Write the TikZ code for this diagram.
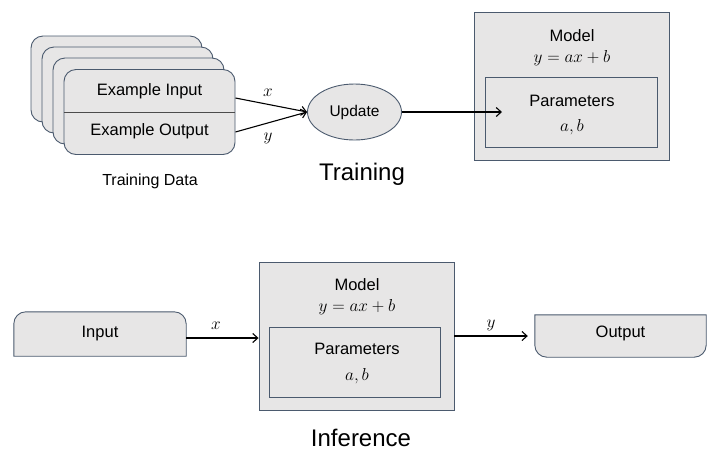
\documentclass[tikz,border=0pt]{standalone}
\usepackage{fontspec}
\setmainfont{Liberation Sans}
\usetikzlibrary{arrows.meta,shapes.geometric,backgrounds}
\definecolor{boxfill}{HTML}{E7E6E6}
\definecolor{boxline}{HTML}{4B5A6E}
\begin{document}
\begin{tikzpicture}[x=1pt,y=-1pt,
  lbl/.style={font=\fontsize{16.5}{19}\selectfont, inner sep=0pt},
  mth/.style={font=\fontsize{16.5}{19}\selectfont, inner sep=0pt},
  big/.style={font=\fontsize{24}{28}\selectfont, inner sep=0pt},
  shp/.style={fill=boxfill, draw=boxline, line width=0.9pt},
  card/.style={shp, rounded corners=12pt},
  sq/.style={shp, inner sep=0pt},
  arr/.style={line width=1.1pt, -{Straight Barb[length=5pt,width=9pt]}}]
\useasboundingbox (0,0) rectangle (713,451);

% ---------- Training ----------
\foreach \i in {0,1,2}{
  \draw[card] ({31+11*\i},{36+11*\i}) rectangle ++(171,86);
}
\node[card, minimum width=171pt, minimum height=85pt, inner sep=0pt] (td) at (149.5,112) {};
\draw[line width=0.9pt, draw=black!70] (td.west) -- (td.east);
\node[lbl] (ei) at (149.5,91) {Example Input};
\node[lbl] (eo) at (149.5,131) {Example Output};
\node[lbl, font=\fontsize{16}{19}\selectfont] (tdl) at (150,181) {Training Data};

\node[shp, ellipse, minimum width=94pt, minimum height=56pt, inner sep=0pt,
      font=\fontsize{15.5}{18}\selectfont] (upd) at (354.5,112) {Update};

\draw[arr] ([yshift=14pt]td.east) -- (upd.west);
\draw[arr] ([yshift=-20pt]td.east) -- (upd.west);
\node[mth] (lx1) at (268,93) {$x$};
\node[mth] (ly1) at (268,138) {$y$};

\node[sq, minimum width=195pt, minimum height=148pt] (m1) at (571.5,86) {};
\node[sq, minimum width=172pt, minimum height=70pt] (p1) at (571,112) {};
\node[lbl] (m1t) at (572,36) {Model};
\node[mth] (m1e) at (572,58) {$y = ax + b$};
\node[lbl] (p1t) at (572,101) {Parameters};
\node[mth] (p1e) at (572,127) {$a, b$};
\coordinate (p1in) at (502,112);
\draw[arr] (upd.east) -- (p1in);

\node[big] (tr) at (362,174) {Training};

% ---------- Inference ----------
\node[minimum width=172pt, minimum height=44pt, inner sep=0pt] (in) at (100,334) {};
\node[minimum width=171pt, minimum height=42pt, inner sep=0pt] (out) at (620.5,336) {};
\begin{scope}[on background layer]
\draw[shp] (in.south west) -- ([yshift=-12pt]in.north west)
  .. controls ([yshift=-5.4pt]in.north west) and ([xshift=5.4pt]in.north west) .. ([xshift=12pt]in.north west)
  -- ([xshift=-12pt]in.north east)
  .. controls ([xshift=-5.4pt]in.north east) and ([yshift=-5.4pt]in.north east) .. ([yshift=-12pt]in.north east)
  -- (in.south east) -- cycle;
\draw[shp] (out.north west) -- ([yshift=12pt]out.south west)
  .. controls ([yshift=5.4pt]out.south west) and ([xshift=5.4pt]out.south west) .. ([xshift=12pt]out.south west)
  -- ([xshift=-12pt]out.south east)
  .. controls ([xshift=-5.4pt]out.south east) and ([yshift=5.4pt]out.south east) .. ([yshift=12pt]out.south east)
  -- (out.north east) -- cycle;
\end{scope}
\node[lbl] (int) at (in.center) {Input};
\node[lbl] (outt) at ([yshift=3pt]out.center) {Output};

\node[sq, minimum width=195pt, minimum height=148pt] (m2) at (356.5,336) {};
\node[sq, minimum width=171pt, minimum height=70pt] (p2) at (354.5,362) {};
\node[lbl] (m2t) at (357,285) {Model};
\node[mth] (m2e) at (357,307) {$y = ax + b$};
\node[lbl] (p2t) at (357,349) {Parameters};
\node[mth] (p2e) at (357,376) {$a, b$};

\draw[arr] ([yshift=-4pt]in.east) -- ([yshift=-4pt]in.east -| m2.west);
\node[mth] (lx2) at (216,326) {$x$};
\coordinate (outin) at ([xshift=-7pt]out.west);
\draw[arr] (m2.east |- outin) -- (outin);
\node[mth] (ly2) at (491,325) {$y$};

\node[big] (inf) at (361,438) {Inference};
\end{tikzpicture}
\end{document}
